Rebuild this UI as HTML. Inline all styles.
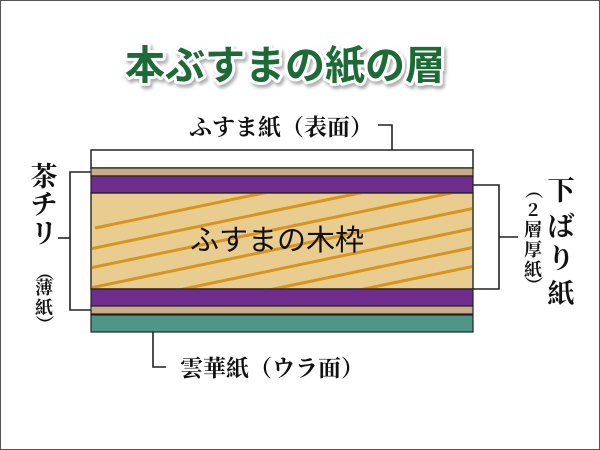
<!DOCTYPE html>
<html><head><meta charset="utf-8"><style>
html,body{margin:0;padding:0;}
body{width:600px;height:450px;overflow:hidden;background:#fff;position:relative;}
.frame{position:absolute;left:0;top:0;width:598px;height:448px;border:1px solid #555;}
svg{position:absolute;left:0;top:0;}
</style></head><body>
<div class="frame"></div>
<svg width="600" height="450" viewBox="0 0 600 450">
<defs>
<clipPath id="wood"><rect x="92" y="194" width="380" height="95"/></clipPath>
<filter id="sh"><feDropShadow dx="2" dy="3" stdDeviation="1.5" flood-color="#999" flood-opacity="0.8"/></filter>
</defs>
<g filter="url(#sh)">
<text x="285" y="79" text-anchor="middle" font-size="40" font-weight="bold" fill="#1e6b35" stroke="#fff" stroke-width="6" paint-order="stroke" stroke-linejoin="round" style="font-family:'Noto Sans CJK JP',sans-serif">本ぶすまの紙の層</text>
</g>
<rect x="91" y="150" width="382" height="18" fill="#fff" stroke="#222" stroke-width="1.5"/>
<rect x="91" y="168" width="382" height="8" fill="#c8ad85" stroke="#222" stroke-width="1.2"/>
<rect x="91" y="176" width="382" height="17" fill="#6e2d8c" stroke="#222" stroke-width="1.2"/>
<rect x="91" y="193" width="382" height="96" fill="#e9cc90" stroke="#222" stroke-width="1.2"/>
<g clip-path="url(#wood)" stroke="#d6951f" stroke-width="3">
<line x1="95" y1="228" x2="480" y2="148"/>
<line x1="90" y1="249" x2="480" y2="168"/>
<line x1="90" y1="268" x2="480" y2="187"/>
<line x1="90" y1="288" x2="480" y2="207"/>
<line x1="150" y1="296" x2="480" y2="227"/>
<line x1="240" y1="296" x2="480" y2="246"/>
<line x1="330" y1="296" x2="480" y2="265"/>
</g>
<rect x="91" y="193" width="382" height="96" fill="none" stroke="#222" stroke-width="1.2"/>
<rect x="91" y="289" width="382" height="17" fill="#6e2d8c" stroke="#222" stroke-width="1.2"/>
<rect x="91" y="306" width="382" height="8" fill="#c8ad85" stroke="#222" stroke-width="1.2"/>
<rect x="91" y="315" width="382" height="17" fill="#4e9686" stroke="#222" stroke-width="1.2"/>
<text x="277" y="250" text-anchor="middle" font-size="29" fill="#111" style="font-family:'Noto Sans CJK JP',sans-serif">ふすまの木枠</text>
<g fill="none" stroke="#222" stroke-width="1.6">
<polyline points="378,125 392,125 392,150"/>
<polyline points="473,185 499,185 499,289 473,289"/>
<line x1="499" y1="237" x2="518" y2="237"/>
<polyline points="91,172 70,172 70,310 91,310"/>
<line x1="58" y1="238" x2="70" y2="238"/>
<polyline points="153,332 153,367 166,367"/>
</g>
<text x="281" y="135" text-anchor="middle" font-size="23" font-weight="bold" fill="#111" style="font-family:'Noto Serif CJK SC',serif">ふすま紙（表面）</text>
<text x="272" y="376" text-anchor="middle" font-size="23" font-weight="bold" fill="#111" style="font-family:'Noto Serif CJK SC',serif">雲華紙（ウラ面）</text>
<g font-size="27" font-weight="bold" fill="#111" style="font-family:'Noto Serif CJK SC',serif" text-anchor="middle">
<text x="44" y="186">茶</text><text x="44" y="214">チ</text><text x="44" y="243">リ</text>
<text x="561" y="200">下</text><text x="561" y="236">ば</text><text x="561" y="268">り</text><text x="561" y="303">紙</text>
</g>
<g font-size="18" font-weight="bold" fill="#111" style="font-family:'Noto Serif CJK SC',serif" text-anchor="middle">
<text x="44" y="278" transform="rotate(90 44 272)">（</text>
<text x="44" y="294">薄</text><text x="44" y="314">紙</text>
<text x="44" y="330" transform="rotate(90 44 324)">）</text>
<text x="533" y="196" transform="rotate(90 533 190)">（</text>
<text x="533" y="216">2</text><text x="533" y="236">層</text><text x="533" y="256">厚</text><text x="533" y="276">紙</text>
<text x="533" y="291" transform="rotate(90 533 285)">）</text>
</g>
</svg>
</body></html>
